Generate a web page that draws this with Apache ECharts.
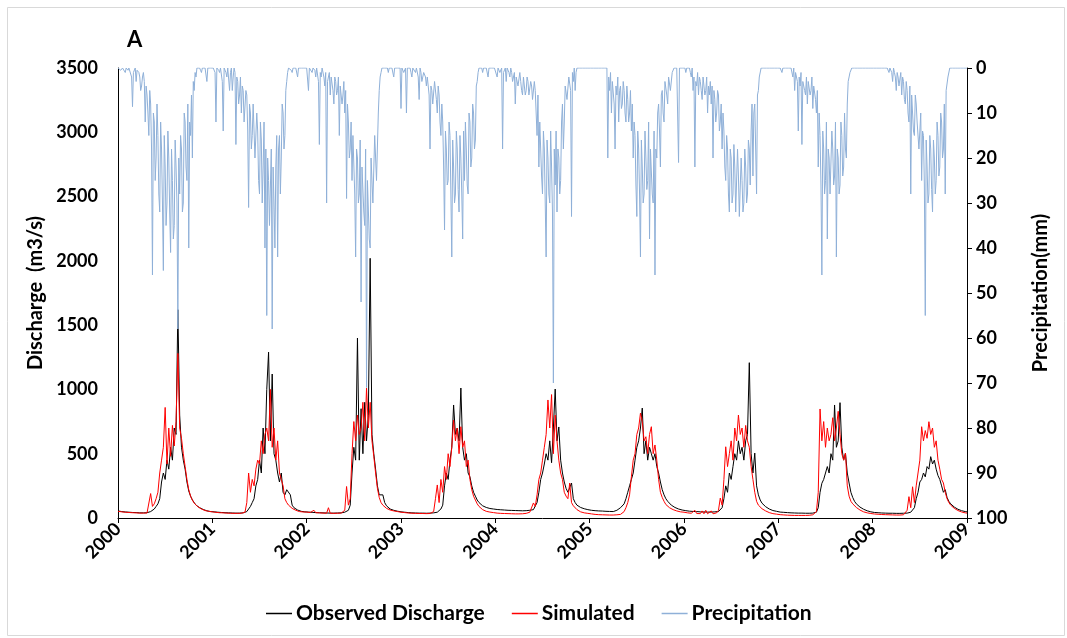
<!DOCTYPE html>
<html>
<head>
<meta charset="utf-8">
<script src="https://cdn.jsdelivr.net/npm/echarts@6.0.0/dist/echarts.min.js"></script>
<style>
  html, body { margin: 0; padding: 0; background: #fff; }
  #chart { width: 1067px; height: 638px; }
</style>
</head>
<body>
<div id="chart"></div>
<script>
// ---- DATA ----
const START_YEAR = 2000;
const Q_PER_YEAR = 52;    // discharge: weekly readings
const P_PER_YEAR = 104;   // precipitation: twice-weekly readings
const xTickLabels = ['2000','2001','2002','2003','2004','2005','2006','2007','2008','2009'];
const seriesNames = ['Observed Discharge', 'Simulated', 'Precipitation'];

// Observed discharge (m3/s)
const observed = [
  // 2000
  55,52,50,48,47,46,45,44,43,42,42,41,40,40,40,40,41,42,50,60,70,90,110,150,280,350,300,450,380,550,450,700,650,1620,800,550,450,380,280,210,170,140,120,100,90,80,72,66,60,56,53,50,
  // 2001
  50,48,46,45,44,43,42,41,40,40,39,39,38,38,38,38,39,40,42,50,60,90,120,150,250,300,450,350,700,500,1000,1290,600,1120,500,450,350,280,350,200,180,220,230,180,100,80,70,62,57,52,50,48,
  // 2002
  48,46,45,44,43,42,42,41,40,40,39,39,38,38,38,38,38,39,39,40,42,45,50,60,100,350,550,450,1400,450,850,500,900,600,800,2020,650,500,380,250,180,170,180,120,95,80,70,64,60,56,53,50,
  // 2003
  48,46,45,43,42,41,40,40,39,39,38,38,38,37,37,37,38,38,40,42,45,55,70,100,250,350,300,450,550,879,650,700,600,1011,550,450,500,350,320,250,200,170,140,120,105,95,88,82,78,74,72,70,
  // 2004
  68,66,65,64,63,62,61,60,60,59,58,58,57,57,56,56,56,57,58,60,62,65,80,120,200,300,350,420,500,450,600,430,700,1003,600,708,450,350,280,230,200,194,272,150,120,100,90,82,76,72,68,65,
  // 2005
  62,60,58,57,56,55,54,54,53,52,52,51,51,50,55,60,70,80,88,110,150,200,250,300,350,450,550,600,700,855,500,600,450,550,500,450,500,400,350,280,220,180,150,130,115,100,90,82,75,70,66,62,
  // 2006
  60,57,55,53,52,51,50,50,49,48,48,47,47,46,46,46,47,48,48,50,55,80,150,250,200,350,300,400,500,450,600,500,550,450,600,650,1208,500,350,505,250,180,140,115,100,88,78,70,64,58,55,52,
  // 2007
  48,46,45,44,43,42,41,40,40,39,39,38,38,38,37,37,37,37,38,38,40,45,80,200,270,300,350,400,350,500,450,879,550,600,897,550,450,505,350,272,200,160,130,110,95,85,75,68,62,56,52,48,
  // 2008
  45,43,42,41,40,39,39,38,38,37,37,37,36,36,36,36,36,37,37,38,40,45,55,80,150,200,280,300,350,320,400,380,477,420,450,380,330,300,250,200,220,160,130,110,95,85,75,68,62,57,53,50,
  // 2009-01
  48
];

// Simulated discharge (m3/s)
const simulated = [
  // 2000
  52,50,48,46,45,44,43,42,41,40,40,39,38,38,38,38,39,40,190,90,110,150,200,350,450,550,860,420,700,480,720,560,750,1280,700,620,500,400,300,220,170,140,115,100,88,78,70,64,58,55,52,50,
  // 2001
  48,46,44,42,41,40,40,39,38,38,37,37,36,36,36,36,37,38,45,120,350,200,300,250,380,450,420,600,500,650,700,600,1000,550,700,450,600,350,300,250,150,120,100,85,75,65,60,55,50,48,47,46,
  // 2002
  46,44,43,42,60,41,40,40,39,38,38,37,80,37,36,36,36,37,37,38,40,60,245,100,150,500,750,600,800,650,700,900,600,1010,700,900,600,480,350,230,160,120,100,85,75,68,62,58,55,52,50,48,
  // 2003
  45,43,42,40,39,38,37,37,36,36,35,35,35,34,34,34,35,36,50,150,257,120,300,200,400,300,500,400,550,762,600,700,500,710,550,600,400,450,300,220,170,140,110,90,75,65,58,52,48,46,44,42,
  // 2004
  40,38,37,36,35,35,34,34,33,33,32,32,32,32,32,33,34,36,40,45,60,117,90,180,300,350,450,550,650,918,700,960,500,800,600,450,350,300,200,170,150,272,120,95,80,65,55,48,44,40,38,36,
  // 2005
  34,32,30,28,27,26,25,25,24,24,24,23,23,23,24,25,26,28,35,50,80,120,180,321,450,500,650,700,816,750,600,632,500,650,710,500,568,450,300,200,160,130,105,90,80,72,65,60,55,52,48,45,
  // 2006
  45,42,40,38,37,36,60,35,34,34,55,33,60,33,32,55,33,35,40,60,155,100,300,554,400,500,600,450,700,600,801,650,700,550,720,600,550,400,300,200,130,100,85,72,62,55,48,42,38,34,32,30,
  // 2007
  28,26,25,24,23,22,22,21,21,20,20,20,20,20,20,20,20,21,22,25,30,50,200,848,600,750,550,700,600,650,780,600,700,830,650,500,450,505,250,170,130,110,95,82,72,62,55,48,44,40,37,35,
  // 2008
  33,31,30,29,28,27,26,26,25,25,24,24,24,23,23,23,24,25,26,60,166,80,243,120,250,350,450,710,600,680,620,749,650,700,550,600,450,380,300,272,200,150,120,100,85,75,65,58,52,47,43,40,
  // 2009-01
  38
];

// Precipitation (mm), right axis (inverted)
const precipitation = [
  // 2000
  0,0, 0,0.5, 0.5,0, 0,0, 1,0, 0,0.5, 0,0, 0,2, 8.6,1, 1,0,
  3,0.5, 0.5,1, 2,5, 4,2, 1,3, 12,4, 6,10, 15,5, 8,18, 46,10,
  12,25, 20,8, 15,28, 32,12, 18,30, 45,15, 22,35, 30,14, 20,32, 41,18,
  25,38, 35,16, 22,30, 58,20, 28,15, 18,32, 30,10, 12,22, 25,8, 40,12,
  15,6, 20,3, 5,1, 2,0, 0,0, 0,0.5, 1,0, 0,0, 0,0, 3,0,
  0,0, 0,0,
  // 2001
  0,0, 0,1, 12,0, 0,0.5, 1,0, 0,3, 14,0, 0,1, 2,0, 0,5,
  1,0, 5,2, 0,1, 17,2, 3,8, 6,2, 10,4, 5,12, 12,5, 6,14,
  31,8, 10,18, 15,8, 8,20, 20,10, 14,25, 28,12, 16,30, 22,12, 40,18,
  55,20, 25,35, 35,18, 58,22, 30,40, 22,15, 42,18, 15,28, 20,8, 10,18,
  15,5, 3,1, 0,0, 0,0.5, 1,0, 0,0, 0,0, 2,0, 0,0, 0,0,
  0,0, 0,0,
  // 2002
  0,0, 5,0, 0,0, 1,0, 0,0.5, 2,0, 0,3, 17,1, 2,0, 0,2,
  4,1, 30,3, 3,1, 6,2, 2,5, 8,2, 3,6, 5,2, 15,4, 4,8,
  6,3, 10,5, 29,8, 12,20, 18,12, 25,15, 15,28, 42,18, 20,30, 28,16,
  52,22, 22,32, 35,18, 71,25, 25,38, 40,20, 20,30, 30,15, 15,25, 25,10,
  5,2, 1,0, 0,0, 0,0, 0,0, 1,0, 0,0, 0,0, 2,0, 0,0,
  0,0, 0,0,
  // 2003
  9,0, 0,1, 1,0, 10,0, 0,0, 0,1, 2,0, 0,0, 1,0, 0,2,
  7,0, 1,3, 3,1, 1,2, 4,2, 2,6, 18,4, 5,8, 8,3, 3,7,
  10,4, 6,12, 15,8, 12,22, 36,14, 18,26, 25,12, 15,28, 42,16, 22,30,
  28,14, 18,27, 32,15, 20,28, 38,14, 25,12, 18,26, 28,10, 12,22, 20,8,
  10,18, 16,4, 3,1, 0,0, 0,0, 1,0, 0,0, 0,0, 2,0, 0,0,
  0,0, 0,0,
  // 2004
  0,0, 2,0, 0,1, 1,0, 18,1, 1,0, 3,0, 0,1, 2,0, 1,3,
  3,1, 8,2, 2,4, 4,1, 3,5, 6,2, 4,6, 5,2, 3,6, 6,3,
  4,7, 7,3, 5,10, 15,6, 22,12, 12,24, 28,14, 18,30, 42,16, 20,28,
  30,14, 22,32, 70,18, 26,14, 32,18, 20,28, 25,12, 8,18, 12,4, 4,7,
  7,2, 2,5, 33,1, 3,0, 5,1, 0,0, 0,0, 0,0, 0,0, 0,0,
  0,0, 0,0,
  // 2005
  0,0, 0,0, 0,0, 0,0, 0,0, 0,0, 0,0, 0,0, 0,0, 0,0,
  20,2, 5,1, 10,3, 3,8, 18,4, 6,2, 12,5, 4,9, 8,3, 5,10,
  12,4, 7,12, 10,5, 14,8, 20,12, 15,26, 33,14, 18,28, 42,16, 22,30,
  28,14, 20,27, 25,12, 38,18, 18,28, 30,14, 46,18, 20,10, 8,14, 22,6,
  5,10, 12,3, 3,6, 8,2, 2,5, 5,1, 1,0, 0,0, 0,0, 21,0,
  0,0, 0,0,
  // 2006
  0,0, 1,0, 0,0, 0,1, 2,0, 5,2, 22,3, 4,1, 6,2, 3,5,
  7,2, 4,6, 5,2, 10,4, 6,3, 8,4, 20,5, 7,12, 10,5, 6,14,
  12,8, 18,10, 14,22, 25,15, 18,28, 32,18, 20,30, 28,17, 22,32, 32,18,
  24,33, 33,20, 25,32, 30,18, 22,30, 28,16, 18,26, 14,8, 24,10, 8,18,
  28,6, 5,2, 2,0, 0,0, 0,0, 0,0, 0,0, 0,0, 0,0, 0,0,
  0,0, 0,0,
  // 2007
  0,0, 0,0, 1,0, 0,0, 0,0, 0,0, 0,0, 0,0, 2,0, 5,1,
  1,3, 14,2, 4,1, 17,3, 3,5, 6,2, 8,3, 3,6, 5,2, 9,4,
  4,7, 10,5, 22,10, 15,26, 46,14, 18,28, 25,12, 38,18, 20,28, 28,14,
  18,26, 24,12, 42,18, 20,28, 26,12, 15,24, 22,10, 18,20, 8,3, 3,1,
  1,0, 0,0, 0,0, 0,0, 0,0, 0,0, 0,0, 0,0, 0,0, 0,0,
  0,0, 0,0,
  // 2008
  0,0, 0,0, 0,0, 0,0, 0,0, 0,0, 0,0, 0,0, 0,0, 1,0,
  0,1, 3,0, 1,2, 5,1, 2,4, 4,1, 6,2, 3,7, 8,3, 5,10,
  12,4, 28,6, 10,14, 15,6, 8,12, 12,18, 18,10, 25,14, 15,26, 55,16,
  22,30, 28,15, 18,27, 32,16, 20,28, 25,12, 15,24, 22,10, 12,20, 18,8,
  28,5, 5,2, 2,0, 0,0, 0,0, 0,0, 0,0, 0,0, 0,0, 0,0,
  0,0, 0,0,
  // 2009-01
  0
];

// ---- CHART ----
const FONT = 'Lato';
const toXY = (arr, perYear) => arr.map((v, i) => [START_YEAR + i / perYear, v]);

const chart = echarts.init(document.getElementById('chart'), null, { renderer: 'canvas' });
chart.setOption({
  animation: false,
  backgroundColor: '#fff',
  textStyle: { fontFamily: FONT },
  graphic: [
    { type: 'rect', left: 5, top: 5, shape: { width: 1057, height: 628 },
      style: { fill: 'none', stroke: '#d9d9d9', lineWidth: 1 }, silent: true },
    { type: 'text', left: 127, top: 29,
      style: { text: 'A', font: 'bold 22px ' + FONT, fill: '#000' } }
  ],
  grid: { left: 118, right: 100, top: 68, bottom: 120, containLabel: false },
  legend: {
    left: 261, top: 598,
    icon: 'rect', itemWidth: 26, itemHeight: 1.5, itemGap: 27,
    textStyle: { fontFamily: FONT, fontWeight: 'bold', fontSize: 21, color: '#000', padding: [0, 0, 0, -1] },
    data: seriesNames
  },
  xAxis: {
    type: 'value', min: 2000, max: 2009, interval: 1,
    axisLine: { lineStyle: { color: '#000', width: 1 } },
    axisTick: { show: true, inside: false, length: 5, lineStyle: { color: '#000' } },
    axisLabel: { rotate: 45, fontFamily: FONT, fontWeight: 'bold', fontSize: 18, color: '#000', margin: 8,
      formatter: v => xTickLabels[Math.round(v - START_YEAR)] },
    splitLine: { show: false }
  },
  yAxis: [
    {
      type: 'value', min: 0, max: 3500, interval: 500,
      name: 'Discharge  (m3/s)', nameLocation: 'middle', nameGap: 66, nameRotate: 90,
      nameTextStyle: { fontFamily: FONT, fontWeight: 'bold', fontSize: 20, color: '#000' },
      axisLine: { show: true, lineStyle: { color: '#000', width: 1 } },
      axisTick: { show: false },
      axisLabel: { fontFamily: FONT, fontWeight: 'bold', fontSize: 18, color: '#000', margin: 20,
        formatter: v => String(v) },
      splitLine: { show: false }
    },
    {
      type: 'value', position: 'right', min: 0, max: 100, interval: 10, inverse: true,
      name: 'Precipitation(mm)', nameLocation: 'middle', nameGap: 64, nameRotate: 90,
      nameTextStyle: { fontFamily: FONT, fontWeight: 'bold', fontSize: 20, color: '#000' },
      axisLine: { show: true, lineStyle: { color: '#000', width: 1 } },
      axisTick: { show: true, inside: false, length: 5, lineStyle: { color: '#000' } },
      axisLabel: { fontFamily: FONT, fontWeight: 'bold', fontSize: 18, color: '#000', margin: 9,
        formatter: v => String(v) },
      splitLine: { show: false }
    }
  ],
  series: [
    { name: seriesNames[0], type: 'line', yAxisIndex: 0, symbol: 'none', z: 3,
      lineStyle: { color: '#000000', width: 1 }, itemStyle: { color: '#000000' },
      data: toXY(observed, Q_PER_YEAR) },
    { name: seriesNames[1], type: 'line', yAxisIndex: 0, symbol: 'none', z: 4,
      lineStyle: { color: '#ff0000', width: 1 }, itemStyle: { color: '#ff0000' },
      data: toXY(simulated, Q_PER_YEAR) },
    { name: seriesNames[2], type: 'line', yAxisIndex: 1, symbol: 'none', z: 5,
      lineStyle: { color: '#8fb0d8', width: 1 }, itemStyle: { color: '#8fb0d8' },
      data: toXY(precipitation, P_PER_YEAR) }
  ]
});
</script>
</body>
</html>
